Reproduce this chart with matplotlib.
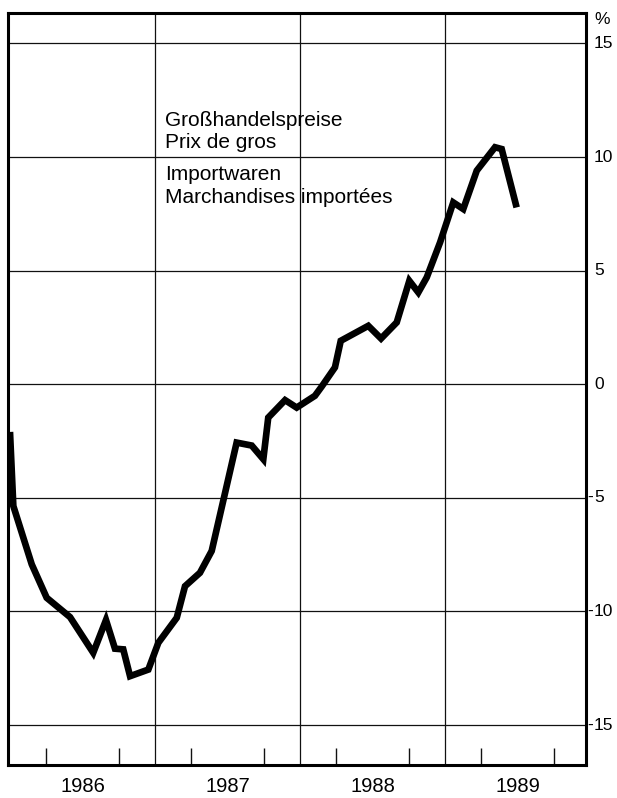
import numpy as np
import matplotlib.pyplot as plt
from matplotlib.transforms import blended_transform_factory, ScaledTranslation

plt.rcParams['font.family'] = ['Liberation Sans', 'DejaVu Sans']

# Jahresveraenderung in % (Zeit als Dezimaljahr)
t = [1986.000, 1986.023, 1986.150, 1986.253, 1986.414, 1986.574, 1986.662,
     1986.724, 1986.781, 1986.828, 1986.954, 1987.023, 1987.150, 1987.207,
     1987.310, 1987.391, 1987.563, 1987.667, 1987.747, 1987.781, 1987.897,
     1987.977, 1988.103, 1988.150, 1988.241, 1988.281, 1988.471, 1988.559,
     1988.667, 1988.754, 1988.816, 1988.874, 1988.966, 1989.057, 1989.126,
     1989.219, 1989.345, 1989.391, 1989.494]
pct = [-2.10, -5.36, -7.93, -9.40, -10.25, -11.82, -10.38,
       -11.64, -11.67, -12.85, -12.56, -11.38, -10.28, -8.89,
       -8.30, -7.34, -2.57, -2.70, -3.30, -1.47, -0.70,
       -1.03, -0.51, -0.10, 0.74, 1.91, 2.57, 2.01,
       2.72, 4.55, 4.04, 4.70, 6.24, 8.00, 7.71,
       9.40, 10.43, 10.35, 7.78]

years = [1986, 1987, 1988, 1989]
yticks = [-15, -10, -5, 0, 5, 10, 15]
label_lines = ["Großhandelspreise", "Prix de gros", "Importwaren", "Marchandises importées"]
label_y = [11.37, 10.40, 8.99, 7.99]

fig = plt.figure(figsize=(6.17, 7.98), dpi=100)
ax = fig.add_axes([8/617, 33/798, 578/617, 752.5/798])

ax.plot(t, pct, color='black', lw=4.8, solid_joinstyle='miter', solid_capstyle='butt', zorder=3)

ax.set_xlim(1986 - 2/145, 1986 + 576/145)
ax.set_ylim(-16.76, 16.36)

# year boundaries
for y in years[1:]:
    ax.axvline(y, color='#111111', lw=0.9, zorder=1)

ax.set_yticks(yticks)
ax.yaxis.grid(True, color='#111111', lw=0.9)
ax.set_axisbelow(True)
ax.tick_params(axis='y', length=0, labelleft=False, labelright=False)

quarters = [y + q for y in years for q in (0.25, 0.5, 0.75)]
ax.set_xticks(quarters, minor=True)
ax.set_xticks([y + 0.5 for y in years], [str(y) for y in years])
ax.tick_params(axis='x', which='major', length=0, pad=9, labelsize=14.5)
ax.tick_params(axis='x', which='minor', direction='in', length=12, width=1.0, color='#111111')

for s in ax.spines.values():
    s.set_linewidth(2.2)

# right-hand value labels, digits aligned, minus hanging
tr = blended_transform_factory(ax.transAxes, ax.transData)
off = ScaledTranslation(8/100, 0, fig.dpi_scale_trans)
moff = ScaledTranslation(7.5/100, 0, fig.dpi_scale_trans)
for v in yticks:
    ax.text(1.0, v, str(abs(v)), transform=tr + off, ha='left', va='center',
            fontsize=12.5, clip_on=False)
    if v < 0:
        ax.text(1.0, v, "-", transform=tr + moff, ha='right', va='center',
                fontsize=12.5, clip_on=False)
ax.text(1.0, 16.05, "%", transform=tr + off, ha='left', va='center', fontsize=12.5, clip_on=False)

# Beschriftung im Diagramm
for txt, yy in zip(label_lines, label_y):
    ax.text(1987.069, yy, txt, fontsize=15, ha='left', va='baseline')

fig.savefig("out.png", dpi=100)
